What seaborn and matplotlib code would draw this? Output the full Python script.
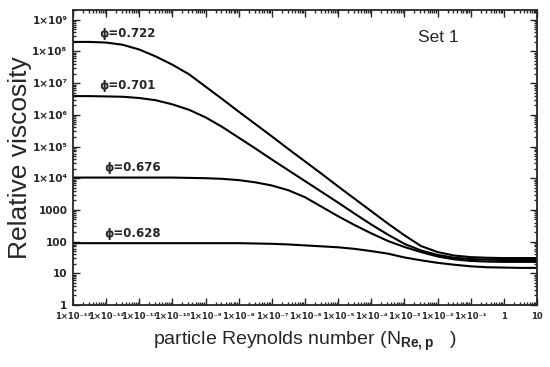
import numpy as np
import pandas as pd
import seaborn as sns
import matplotlib.pyplot as plt
from matplotlib.ticker import LogLocator, NullFormatter

# exponent of the particle Reynolds number (x = 10**exp)
re_exp = [-13, -12.5, -12, -11.5, -11, -10.5, -10, -9.5, -9, -8.5, -8, -7.5,
          -7, -6.5, -6, -5.5, -5, -4.5, -4, -3.5, -3, -2.5, -2, -1.5, -1,
          -0.5, 0, 0.5, 1]

# log10 of relative viscosity
log_eta_0722 = [8.30, 8.30, 8.28, 8.21, 8.06, 7.84, 7.58, 7.28, 6.89, 6.50,
                6.10, 5.71, 5.32, 4.92, 4.53, 4.14, 3.74, 3.35, 2.96, 2.57,
                2.20, 1.86, 1.67, 1.56, 1.51, 1.49, 1.48, 1.48, 1.48]
log_eta_0701 = [6.59, 6.59, 6.58, 6.57, 6.53, 6.46, 6.33, 6.16, 5.92, 5.62,
                5.28, 4.94, 4.59, 4.25, 3.91, 3.57, 3.23, 2.88, 2.54, 2.22,
                1.93, 1.72, 1.58, 1.49, 1.45, 1.43, 1.42, 1.42, 1.42]
log_eta_0676 = [4.02, 4.02, 4.02, 4.02, 4.02, 4.02, 4.02, 4.01, 4.00, 3.98,
                3.94, 3.87, 3.77, 3.62, 3.40, 3.10, 2.80, 2.52, 2.26, 2.02,
                1.83, 1.67, 1.53, 1.44, 1.39, 1.37, 1.36, 1.36, 1.36]
log_eta_0628 = [1.95, 1.95, 1.95, 1.95, 1.95, 1.95, 1.95, 1.95, 1.95, 1.95,
                1.95, 1.94, 1.93, 1.91, 1.88, 1.85, 1.82, 1.77, 1.70, 1.62,
                1.50, 1.41, 1.33, 1.27, 1.22, 1.19, 1.18, 1.17, 1.17]

phi_labels = ['ϕ=0.722', 'ϕ=0.701', 'ϕ=0.676', 'ϕ=0.628']
series = [log_eta_0722, log_eta_0701, log_eta_0676, log_eta_0628]

xtick_labels = ['1×10⁻¹³', '1×10⁻¹²', '1×10⁻¹¹', '1×10⁻¹⁰', '1×10⁻⁹',
                '1×10⁻⁸', '1×10⁻⁷', '1×10⁻⁶', '1×10⁻⁵', '1×10⁻⁴',
                '1×10⁻³', '1×10⁻²', '1×10⁻¹', '1', '10']
ytick_labels = ['1', '10', '100', '1000', '1×10⁴', '1×10⁵', '1×10⁶',
                '1×10⁷', '1×10⁸', '1×10⁹']

rows = []
for lab, vals in zip(phi_labels, series):
    for e, v in zip(re_exp, vals):
        rows.append({'Re': 10.0 ** e, 'eta': 10.0 ** v, 'phi': lab})
df = pd.DataFrame(rows)

sns.set_style('ticks')
plt.rcParams['font.family'] = ['Liberation Sans', 'DejaVu Sans']
plt.rcParams['mathtext.fontset'] = 'custom'
plt.rcParams['mathtext.rm'] = 'Liberation Sans'
plt.rcParams['mathtext.bf'] = 'Liberation Sans:bold'

fig = plt.figure(figsize=(5.5, 3.67), dpi=100)
ax = fig.add_axes([0.1327, 0.169, 0.8436, 0.804])

sns.lineplot(data=df, x='Re', y='eta', hue='phi', palette=['black'] * 4,
             linewidth=1.5, legend=False, ax=ax)

ax.set_xscale('log')
ax.set_yscale('log')
ax.set_xlim(1e-13, 10)
ax.set_ylim(1, 10 ** 9.31)

xt = [10.0 ** e for e in range(-13, 2)]
yt = [10.0 ** e for e in range(0, 10)]
ax.set_xticks(xt)
ax.set_xticklabels(xtick_labels, fontsize=6, fontweight='bold', family=['DejaVu Sans'])
ax.set_yticks(yt)
ax.set_yticklabels(ytick_labels, fontsize=7.5, fontweight='bold', family=['DejaVu Sans'])
ax.xaxis.set_minor_locator(LogLocator(base=10, subs=[2, 3, 4, 5, 6, 7, 8, 9], numticks=100))
ax.yaxis.set_minor_locator(LogLocator(base=10, subs=[2, 3, 4, 5, 6, 7, 8, 9], numticks=100))
ax.xaxis.set_minor_formatter(NullFormatter())
ax.yaxis.set_minor_formatter(NullFormatter())
ax.tick_params(which='both', direction='in', top=True, right=True, width=1)
ax.tick_params(which='major', length=5)
ax.tick_params(which='minor', length=2.5)
ax.tick_params(axis='x', which='major', pad=5)
ax.tick_params(axis='y', which='major', pad=4)
for s in ax.spines.values():
    s.set_linewidth(1.3)

ax.set_xlabel(r'particle Reynolds number (N$_{\mathbf{Re,p}}$   )', fontsize=14, labelpad=6)
ax.set_ylabel('Relative viscosity', fontsize=19, labelpad=0)

label_pos = [(10 ** -12.2, 10 ** 8.58), (10 ** -12.2, 10 ** 6.91),
             (10 ** -12.05, 10 ** 4.35), (10 ** -12.05, 10 ** 2.27)]
for lab, (tx, ty) in zip(phi_labels, label_pos):
    ax.text(tx, ty, lab, fontsize=8.5, fontweight='bold', va='center', ha='left',
            family=['DejaVu Sans'])

ax.text(0.743, 0.905, 'Set 1', transform=ax.transAxes, fontsize=12.5, va='center', ha='left')

fig.savefig('out.png', dpi=100)
